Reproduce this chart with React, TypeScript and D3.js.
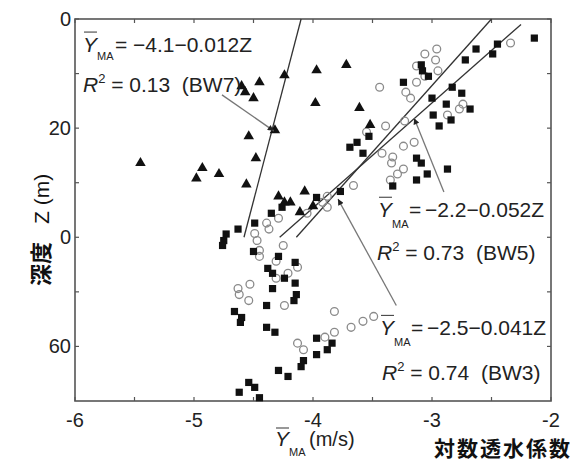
import * as d3 from 'd3';

const W = 583;
const H = 461;
const margin = { top: 19, right: 32, bottom: 60, left: 75 };

const xTicks = [-6, -5, -4, -3, -2];
const xTickLabels = ['-6', '-5', '-4', '-3', '-2'];
const xMinorTicks = [-5.5, -4.5, -3.5, -2.5];
const zTicks = [0, 20, 40, 60];
const zTickLabels = ['0', '20', '0', '60'];
const zMinorTicks = [10, 30, 50];

// [Y_MA (log m/s), Z (m)]
const triangles: [number, number][] = [
  [-5.45, 26.4], [-4.98, 29.2], [-4.93, 27.3], [-4.79, 28.4], [-4.6, 12.3], [-4.57, 13.4],
  [-4.5, 14.5], [-4.45, 11.6], [-4.24, 10.3], [-4.32, 20.4], [-4.54, 21.5], [-4.48, 25.5],
  [-4.56, 30.3], [-4.29, 32.5], [-4.24, 33.6], [-4.19, 33.6], [-4.07, 31.6], [-4.11, 35.4],
  [-4.0, 34.3], [-3.97, 9.4], [-3.72, 8.4], [-3.98, 15.4], [-3.61, 16.3], [-3.52, 19.4],
];

const squares: [number, number][] = [
  [-2.14, 3.5], [-2.45, 4.6], [-2.63, 5.5], [-2.72, 7.5], [-2.49, 6.4], [-3.09, 8.4],
  [-3.08, 9.5], [-3.03, 10.5], [-3.24, 11.6], [-2.83, 12.5], [-2.75, 13.6], [-3.0, 14.5],
  [-2.88, 15.6], [-2.68, 16.5], [-2.99, 17.6], [-2.84, 18.5], [-2.94, 19.6], [-3.53, 21.5],
  [-3.63, 22.6], [-3.69, 23.5], [-3.58, 24.6], [-3.13, 25.5], [-3.09, 26.4], [-2.87, 27.5],
  [-3.04, 28.4], [-3.13, 29.5], [-3.33, 30.6], [-3.77, 31.6], [-3.97, 32.7], [-4.26, 34.5],
  [-4.35, 35.6], [-4.49, 37.4], [-4.63, 38.5], [-4.73, 39.4], [-4.75, 40.6], [-4.76, 41.5],
  [-4.5, 42.6], [-4.29, 43.5], [-4.15, 44.6], [-4.38, 45.7], [-4.34, 46.6], [-4.24, 47.5],
  [-4.34, 49.4], [-4.15, 48.4], [-4.14, 50.5], [-4.16, 51.6], [-4.39, 52.5], [-4.66, 53.6],
  [-4.6, 54.7], [-4.61, 55.6], [-4.39, 56.5], [-4.32, 57.4], [-3.97, 58.5], [-3.84, 59.4],
  [-3.88, 60.6], [-3.97, 61.5], [-4.08, 62.6], [-4.1, 63.7], [-4.29, 64.4], [-4.21, 65.5],
  [-4.54, 66.6], [-4.49, 67.5], [-4.62, 68.4], [-4.45, 69.4],
];

const circles: [number, number][] = [
  [-2.34, 4.4], [-2.96, 5.5], [-3.06, 6.4], [-2.97, 7.5], [-3.13, 8.6], [-2.95, 9.5],
  [-3.06, 10.5], [-3.13, 11.6], [-3.44, 12.5], [-3.22, 13.4], [-3.18, 14.5], [-2.74, 15.6],
  [-2.77, 16.5], [-2.87, 17.6], [-3.23, 18.7], [-3.39, 19.6], [-3.55, 20.7], [-3.15, 22.6],
  [-3.24, 23.3], [-3.42, 24.6], [-3.33, 25.3], [-3.34, 26.4], [-3.24, 27.5], [-3.29, 28.4],
  [-3.35, 29.5], [-3.66, 30.5], [-3.88, 32.5], [-3.92, 33.6], [-3.88, 34.5], [-4.05, 35.6],
  [-4.29, 36.5], [-4.39, 37.4], [-4.37, 38.5], [-4.49, 39.3], [-4.47, 40.6], [-4.25, 41.5],
  [-4.45, 42.4], [-4.45, 43.5], [-4.31, 44.4], [-4.13, 45.5], [-4.21, 46.6], [-4.31, 47.5],
  [-4.53, 48.6], [-4.63, 49.4], [-4.62, 50.5], [-4.54, 51.6], [-4.24, 52.5], [-3.82, 53.6],
  [-3.49, 54.5], [-3.58, 55.4], [-3.68, 56.5], [-3.82, 57.4], [-3.9, 58.3], [-4.13, 59.4],
  [-4.08, 60.6],
];

// regression lines Y = a + b Z, drawn over [z0, z1]
const fits = [
  { well: 'BW7', a: -4.1, b: -0.012, z0: 0, z1: 40 },
  { well: 'BW5', a: -2.2, b: -0.052, z0: 1, z1: 40 },
  { well: 'BW3', a: -2.5, b: -0.041, z0: 0, z1: 40 },
];

const labels = [
  { x: -5.933, z: 6.06, rx: -5.933, rz: 13.39, eq: '−4.1−0.012Z', r2: '0.13', well: 'BW7', tight: false },
  { x: -3.454, z: 36.33, rx: -3.462, rz: 44.22, eq: '−2.2−0.052Z', r2: '0.73', well: 'BW5', tight: true },
  { x: -3.437, z: 57.98, rx: -3.42, rz: 66.24, eq: '−2.5−0.041Z', r2: '0.74', well: 'BW3', tight: true },
];

const arrows = [
  { from: [-4.765, 13.9], to: [-4.33, 20.5] },
  { from: [-2.9, 31.7], to: [-3.15, 18.2] },
  { from: [-3.3, 52.5], to: [-3.79, 33.0] },
];

const FONT = '"Liberation Sans", Arial, sans-serif';
const CJK = '"Noto Sans CJK JP", "Noto Sans CJK SC", sans-serif';

export default function App() {
  const x = d3.scaleLinear().domain([-6, -2]).range([margin.left, W - margin.right]);
  const y = d3.scaleLinear().domain([0, 70]).range([margin.top, H - margin.bottom]);
  const [x0, x1] = x.range();
  const [y0, y1] = y.range();
  const tri = d3.symbol(d3.symbolTriangle, 48)();
  const sq = d3.symbol(d3.symbolSquare, 52)();
  const tk = 4;

  return (
    <div style={{ position: 'fixed', left: 0, top: 0 }}>
      <svg width={W} height={H} style={{ display: 'block', background: '#fff' }}>
        <defs>
          <marker id="ah" viewBox="0 0 10 10" refX="10" refY="5" markerWidth="7" markerHeight="6"
            markerUnits="userSpaceOnUse" orient="auto">
            <path d="M0,0L10,5L0,10z" fill="#222" />
          </marker>
        </defs>

        {/* ticks on all four sides */}
        {[...xTicks, ...xMinorTicks].map(t => (
          <g key={'xt' + t} stroke="#555" strokeWidth={1.2}>
            <line x1={x(t)} x2={x(t)} y1={y1} y2={y1 - tk} />
            <line x1={x(t)} x2={x(t)} y1={y0} y2={y0 + tk} />
          </g>
        ))}
        {[...zTicks, ...zMinorTicks].map(t => (
          <g key={'zt' + t} stroke="#555" strokeWidth={1.2}>
            <line x1={x0} x2={x0 + tk} y1={y(t)} y2={y(t)} />
            <line x1={x1} x2={x1 - tk} y1={y(t)} y2={y(t)} />
          </g>
        ))}
        <rect x={x0} y={y0} width={x1 - x0} height={y1 - y0} fill="none" stroke="#555" strokeWidth={1.6} />

        {xTicks.map((t, i) => (
          <text key={'xl' + t} x={x(t)} y={427} textAnchor="middle" fontFamily={FONT} fontSize={20} fill="#222">
            {xTickLabels[i]}
          </text>
        ))}
        {zTicks.map((t, i) => (
          <text key={'zl' + t} x={x0 - 4} y={y(t)} dy="0.35em" textAnchor="end" fontFamily={FONT} fontSize={20} fill="#222">
            {zTickLabels[i]}
          </text>
        ))}

        {/* regression lines */}
        {fits.map(f => (
          <line key={f.well} x1={x(f.a + f.b * f.z0)} y1={y(f.z0)} x2={x(f.a + f.b * f.z1)} y2={y(f.z1)}
            stroke="#333" strokeWidth={1.3} />
        ))}

        {/* data */}
        {circles.map((d, i) => (
          <circle key={'c' + i} cx={x(d[0])} cy={y(d[1])} r={3.9} fill="none" stroke="#8a8a8a" strokeWidth={1.3} />
        ))}
        {squares.map((d, i) => (
          <path key={'s' + i} d={sq!} transform={`translate(${x(d[0])},${y(d[1])})`} fill="#111" />
        ))}
        {triangles.map((d, i) => (
          <path key={'t' + i} d={tri!} transform={`translate(${x(d[0])},${y(d[1])})`} fill="#111" />
        ))}

        {/* arrows */}
        {arrows.map((a, i) => (
          <line key={'a' + i} x1={x(a.from[0])} y1={y(a.from[1])} x2={x(a.to[0])} y2={y(a.to[1])}
            stroke="#777" strokeWidth={1.3} markerEnd="url(#ah)" />
        ))}

        {/* fit labels */}
        {labels.map(l => {
          const ax = x(l.x);
          const ay = y(l.z);
          const sub = l.tight ? { dx: 14, dy: 11, fs: 11 } : { dx: 14, dy: 8, fs: 11 };
          const eqDx = l.tight ? 31 : 32;
          const numDx = l.tight ? 47 : 50;
          const rx = x(l.rx);
          const ry = y(l.rz);
          return (
            <g key={l.well} fontFamily={FONT} fill="#222">
              <line x1={ax + 1} x2={ax + 14} y1={ay - 20} y2={ay - 20} stroke="#444" strokeWidth={1.1} />
              <text y={ay} fontSize={21}>
                <tspan x={ax} fontStyle="italic">Y</tspan>
                <tspan x={ax + sub.dx} y={ay + sub.dy} fontSize={sub.fs}>MA</tspan>
                <tspan x={ax + eqDx} y={ay}>=</tspan>
                <tspan x={ax + numDx} y={ay}>{l.eq}</tspan>
              </text>
              <text x={rx} y={ry} fontSize={21} style={{ whiteSpace: 'pre' }}>
                <tspan fontStyle="italic">R</tspan>
                <tspan fontSize={13} dy={-9}>2</tspan>
                <tspan dy={9}>{` = ${l.r2}  (${l.well})`}</tspan>
              </text>
            </g>
          );
        })}

        {/* axis titles */}
        <g fontFamily={FONT} fill="#222">
          <line x1={276} x2={289} y1={428} y2={428} stroke="#444" strokeWidth={1.1} />
          <text y={446} fontSize={20}>
            <tspan x={275} fontSize={21} fontStyle="italic">Y</tspan>
            <tspan x={289} y={456} fontSize={11}>MA</tspan>
            <tspan x={309} y={446}>(m/s)</tspan>
          </text>
        </g>
        <text x={434} y={456} fontFamily={CJK} fontWeight="bold" fontSize={21} letterSpacing={2} fill="#111">対数透水係数</text>
        <text transform="translate(49,286) rotate(-90)" fill="#111" style={{ whiteSpace: 'pre' }}>
          <tspan fontFamily={CJK} fontWeight="bold" fontSize={22}>深度</tspan>
          <tspan fontFamily={FONT} fontSize={21} dx={18}>Z (m)</tspan>
        </text>
      </svg>
    </div>
  );
}
